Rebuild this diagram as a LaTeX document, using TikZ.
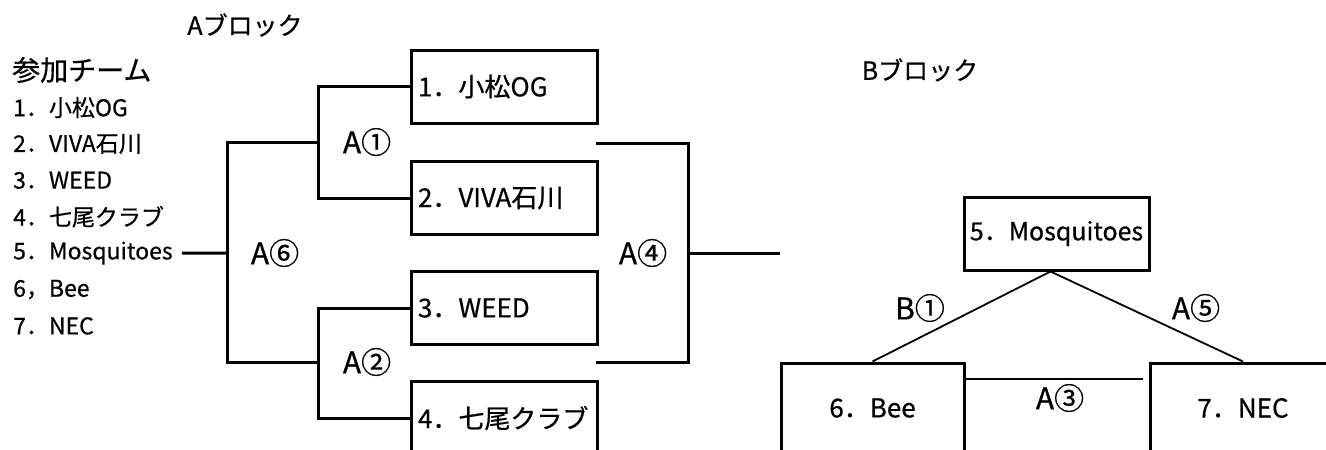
\documentclass[tikz,border=0pt]{standalone}
\usepackage{fontspec}
\setmainfont{Noto Sans CJK JP}[FakeBold=0.6]
\begin{document}
\begin{tikzpicture}[x=1pt,y=-1pt,
  box/.style={draw, line width=3pt, inner sep=0pt, font=\fontsize{26}{26}\selectfont},
  abox/.style={box, minimum height=73pt, text width=172pt, inner xsep=7pt, align=left},
  item/.style={anchor=west, inner sep=3pt, font=\fontsize{23}{23}\selectfont},
  lab/.style={inner sep=0pt, font=\fontsize{30}{30}\selectfont},
  ttl/.style={inner sep=0pt, font=\fontsize{25}{25}\selectfont},
  bline/.style={line width=3pt},
  thin/.style={line width=1.8pt}]
\useasboundingbox (0,0) rectangle (1326,450);
\clip (0,0) rectangle (1326,450);
% titles
\node[ttl] (ta) at (245,25) {Aブロック};
\node[ttl] (tb) at (920,70) {Bブロック};
\node[anchor=west, inner sep=0pt, font=\fontsize{28}{28}\selectfont] (head) at (12,70) {参加チーム};
% list
\node[item] (l1) at (10,107.5) {1．小松OG};
\node[item] (l2) at (10,143.9) {2．VIVA石川};
\node[item] (l3) at (10,180.3) {3．WEED};
\node[item] (l4) at (10,216.7) {4．七尾クラブ};
\node[item] (l5) at (10,253.1) {5．Mosquitoes};
\node[item] (l6) at (10,289.5) {6，Bee};
\node[item] (l7) at (10,325.9) {7．NEC};
% A block boxes
\node[abox] (t1) at (504,86.5) {1．小松OG};
\node[abox] (t2) at (504,198) {2．VIVA石川};
\node[abox] (t3) at (504,308) {3．WEED};
\node[abox] (t4) at (504,418) {4．七尾クラブ};
% junctions
\coordinate (j1) at (318,142);
\coordinate (j2) at (318,362);
\coordinate (j6) at (227,253);
\coordinate (j4) at (688,253);
\coordinate (a4t) at (596,143);
\coordinate (a4b) at (596,362);
\coordinate (a4o) at (780,253);
\draw[bline] (t1.west) -| (j1) |- (t2.west);
\draw[bline] (t3.west) -| (j2) |- (t4.west);
\draw[bline] (j1) -| (j6) |- (j2);
\draw[bline, shorten <=6pt] (l5.east) -- (j6);
\draw[bline] (a4t) -| (j4) |- (a4b);
\draw[bline] (j4) -- (a4o);
% labels A block
\node[lab] (la1) at (367,142) {A①};
\node[lab] (la2) at (367,362) {A②};
\node[lab] (la6) at (275,253) {A⑥};
\node[lab] (la4) at (643,253) {A④};
% B block
\node[box, minimum width=185pt, minimum height=73pt, font=\fontsize{25}{25}\selectfont] (mosq) at (1056.5,233.5) {5．Mosquitoes};
\node[box, minimum width=183pt, minimum height=90pt] (bee) at (872.5,408) {6．Bee};
\node[box, minimum width=186pt, minimum height=90pt] (nec) at (1243,408) {7．NEC};
\coordinate (a3e) at (1143,379);
\draw[thin] ([xshift=-6pt]mosq.south) -- (bee.north);
\draw[thin] ([xshift=-6pt]mosq.south) -- (nec.north);
\draw[line width=2pt] (a3e -| bee.east) -- (a3e);
\node[lab] (lb1) at (920,308) {B①};
\node[lab] (la5) at (1196,308) {A⑤};
\node[lab] (la3) at (1060,398) {A③};
\end{tikzpicture}
\end{document}
